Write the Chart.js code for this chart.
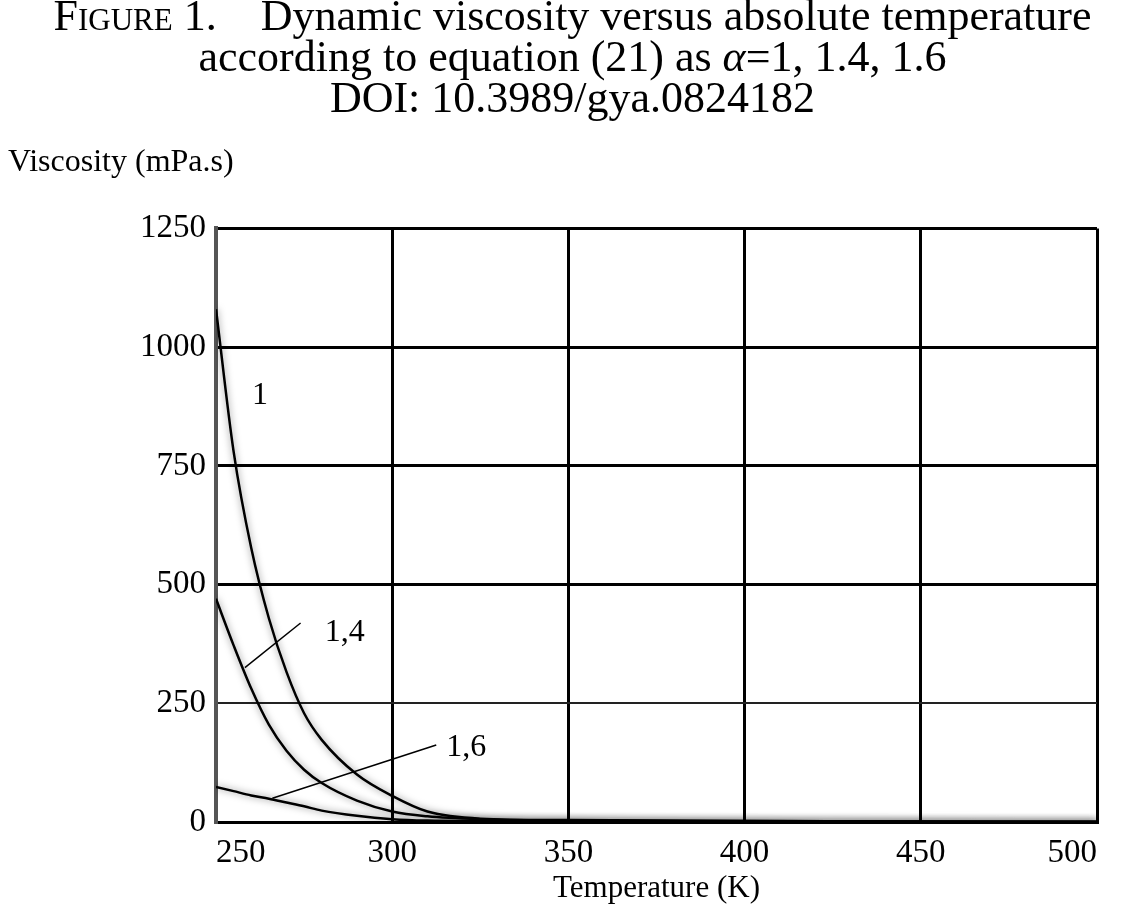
<!DOCTYPE html>
<html>
<head>
<meta charset="utf-8">
<title>Dynamic viscosity versus absolute temperature</title>
<script src="https://cdn.jsdelivr.net/npm/chart.js@4.4.1/dist/chart.umd.min.js"></script>
<style>
  html, body { margin: 0; padding: 0; background: #fff; }
  #wrap { position: relative; width: 1145px; height: 917px; }
  #caption {
    position: absolute; left: 0; top: -5px; width: 1145px;
    text-align: center; font-family: 'Liberation Serif', 'DejaVu Serif', serif;
    font-size: 44px; line-height: 41px; color: #000;
  }
  #caption .sc { font-variant: small-caps; }
  canvas { position: absolute; left: 0; top: 0; }
</style>
</head>
<body>
<div id="wrap">
  <canvas id="chart" width="1145" height="917"></canvas>
  <div id="caption">
    <div><span class="sc">Figure 1.</span>&nbsp;&nbsp;&nbsp; Dynamic viscosity versus absolute temperature</div>
    <div>according to equation (21) as <i>α</i>=1, 1.4, 1.6</div>
    <div>DOI: 10.3989/gya.0824182</div>
  </div>
</div>
<script>
// Values (temperature in K, viscosity in mPa.s)
const temperatures = [250, 255, 260, 265, 270, 275, 280, 290, 300, 310, 325, 350, 400, 450, 500]
const viscosityAlpha1 = [1080, 780, 577, 429, 316, 229, 173, 100, 55, 22, 7, 4, 2, 1, 0.5]
const viscosityAlpha14 = [470, 372, 281, 205, 150, 110, 82, 45, 22, 12, 6, 3, 2, 1, 0.5]
const viscosityAlpha16 = [74, 65, 56, 49, 41, 33, 24, 13, 6, 3, 2, 1, 0.5, 0.3, 0.2]

const xTicks = [250, 300, 350, 400, 450, 500]
const yTicks = [0, 250, 500, 750, 1000, 1250]

const toPoints = (values) => temperatures.map((t, i) => ({ x: t, y: values[i] }))

const serif = "'Liberation Serif', 'DejaVu Serif', serif"

// Curve labels with their leader lines, in data coordinates
const curveLabels = [
  { text: '1', at: [262.5, 898] },
  { text: '1,4', at: [286.5, 398], from: [258.2, 325], to: [274.0, 419] },
  { text: '1,6', at: [321.0, 156], from: [266.0, 50], to: [312.5, 162] }
]

// Soft grey halo under the curves, like the scanned original
const haloPlugin = {
  id: 'halo',
  beforeDatasetsDraw(chart) {
    const ctx = chart.ctx
    ctx.save()
    ctx.shadowColor = 'rgba(0, 0, 0, 0.5)'
    ctx.shadowBlur = 7
  },
  afterDatasetsDraw(chart) {
    chart.ctx.restore()
  }
}

const curveLabelPlugin = {
  id: 'curveLabels',
  afterDraw(chart, args, opts) {
    const { ctx, scales: { x, y } } = chart
    ctx.save()
    ctx.fillStyle = '#000'
    ctx.strokeStyle = '#000'
    ctx.lineWidth = 1.5
    ctx.font = opts.font
    ctx.textAlign = 'center'
    ctx.textBaseline = 'middle'
    for (const label of opts.labels) {
      if (label.from) {
        ctx.beginPath()
        ctx.moveTo(x.getPixelForValue(label.from[0]), y.getPixelForValue(label.from[1]))
        ctx.lineTo(x.getPixelForValue(label.to[0]), y.getPixelForValue(label.to[1]))
        ctx.stroke()
      }
      ctx.fillText(label.text, x.getPixelForValue(label.at[0]), y.getPixelForValue(label.at[1]))
    }
    ctx.restore()
  }
}

const curveStyle = {
  borderColor: '#000',
  borderWidth: 2.5,
  pointRadius: 0,
  fill: false,
  cubicInterpolationMode: 'monotone'
}

new Chart(document.getElementById('chart').getContext('2d'), {
  type: 'line',
  data: {
    datasets: [
      { label: 'α = 1', data: toPoints(viscosityAlpha1), ...curveStyle },
      { label: 'α = 1.4', data: toPoints(viscosityAlpha14), ...curveStyle },
      { label: 'α = 1.6', data: toPoints(viscosityAlpha16), ...curveStyle }
    ]
  },
  options: {
    responsive: false,
    animation: false,
    devicePixelRatio: 1,
    layout: { padding: { left: 8, right: 48, top: 0, bottom: 0 } },
    plugins: {
      legend: { display: false },
      tooltip: { enabled: false },
      title: {
        display: true,
        text: 'Viscosity (mPa.s)',
        align: 'start',
        color: '#000',
        font: { family: serif, size: 32, weight: 'normal' },
        padding: { top: 143, bottom: 47 }
      },
      curveLabels: {
        font: `32px ${serif}`,
        labels: curveLabels
      }
    },
    scales: {
      x: {
        type: 'linear',
        min: 250,
        max: 500,
        afterBuildTicks: (scale) => { scale.ticks = xTicks.map(v => ({ value: v })) },
        afterFit: (scale) => { scale.height = 95 },
        grid: { color: '#000', lineWidth: 3, drawTicks: false },
        border: { color: '#000', width: 3 },
        ticks: {
          color: '#000',
          font: { family: serif, size: 33 },
          padding: 12,
          align: 'inner',
          callback: (v) => String(v)
        },
        title: {
          display: true,
          text: 'Temperature (K)',
          color: '#000',
          font: { family: serif, size: 31 },
          padding: { top: 8, bottom: 10 }
        }
      },
      y: {
        type: 'linear',
        min: 0,
        max: 1250,
        afterBuildTicks: (scale) => { scale.ticks = yTicks.map(v => ({ value: v })) },
        afterFit: (scale) => { scale.width = 208 },
        grid: {
          color: (c) => c.tick && c.tick.value === 250 ? '#222' : '#000',
          lineWidth: (c) => c.tick && c.tick.value === 250 ? 2 : 3,
          drawTicks: false
        },
        border: { color: '#555', width: 4 },
        ticks: {
          color: '#000',
          font: { family: serif, size: 33 },
          padding: 10,
          callback: (v) => String(v)
        }
      }
    }
  },
  plugins: [haloPlugin, curveLabelPlugin]
})
</script>
</body>
</html>
